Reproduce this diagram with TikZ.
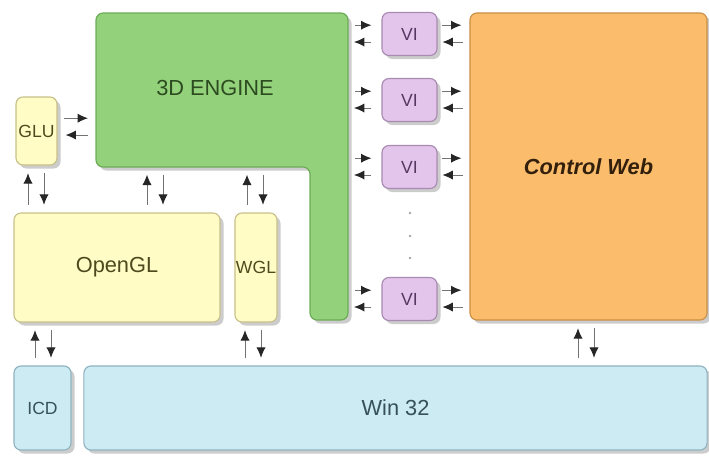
\documentclass[tikz,border=0pt]{standalone}
\usepackage{fontspec}
\setmainfont{Liberation Sans}
\usetikzlibrary{arrows.meta,shadows}

\definecolor{engfill}{HTML}{93D27B}
\definecolor{engline}{HTML}{6DAA57}
\definecolor{engtext}{HTML}{2C4B20}
\definecolor{glfill}{HTML}{FFFCC6}
\definecolor{glline}{HTML}{C8C08A}
\definecolor{gltext}{HTML}{4F4A1E}
\definecolor{vifill}{HTML}{E3C4EB}
\definecolor{viline}{HTML}{A98AB2}
\definecolor{vitext}{HTML}{553862}
\definecolor{cwfill}{HTML}{FBBD6C}
\definecolor{cwline}{HTML}{C98E47}
\definecolor{cwtext}{HTML}{33200C}
\definecolor{wfill}{HTML}{CDEBF3}
\definecolor{wline}{HTML}{8FB3C0}
\definecolor{wtext}{HTML}{37505B}

\tikzset{
every picture/.style={
line width=0.8pt
},
box/.style={draw, rounded corners=5pt, inner sep=0pt,
  drop shadow={shadow xshift=2.5pt, shadow yshift=-2.5pt, opacity=0.4}},
big/.style={font=\fontsize{15.5}{18}\selectfont},
small/.style={font=\fontsize{12.5}{15}\selectfont},
glbox/.style={box, fill=glfill, draw=glline, text=gltext},
vibox/.style={box, small, fill=vifill, draw=viline, text=vitext,
  minimum width=1.375cm, minimum height=1.075cm},
wbox/.style={box, fill=wfill, draw=wline, text=wtext, minimum height=2.1cm},
arr/.style={draw=black!55, line width=0.7pt,
  -{Latex[length=2.6mm, width=2.3mm, black!85]}},
vshort/.style={arr, shorten <=0.19cm, shorten >=0.19cm}
}

\begin{document}
\begin{tikzpicture}[x=0.025cm, y=-0.025cm]
\useasboundingbox (0,0) rectangle (709,455);

% 3D engine (L shape)
\path[box, fill=engfill, draw=engline]
  (96,13) -- (348,13) -- (348,320) -- (310,320) -- (310,167) -- (96,167) -- cycle;
\node[big, text=engtext] (engine) at (215,88) {3D ENGINE};
\coordinate (engL) at (96,140);
\coordinate (engR) at (348,140);
\coordinate (engB) at (200,167);

\node[glbox, small, minimum width=1.025cm, minimum height=1.7cm] (glu) at (36.5,131) {GLU};
\node[glbox, big, minimum width=5.15cm, minimum height=2.725cm] (opengl) at (117,267.5) {OpenGL};
\node[glbox, small, minimum width=1.05cm, minimum height=2.725cm] (wgl) at (256,267.5) {WGL};

\node[wbox, small, minimum width=1.425cm] (icd) at (42.5,408) {ICD};
\node[wbox, big, minimum width=15.575cm] (win) at (395.5,408) {Win 32};

\node[box, big, fill=cwfill, draw=cwline, text=cwtext, font=\fontsize{15.5}{18}\selectfont\bfseries\itshape,
  minimum width=5.925cm, minimum height=7.675cm] (cweb) at (588.5,166.5) {Control Web};

\foreach \y [count=\i] in {34,100,167,299}{
  \node[vibox] (vi\i) at (409.5,\y) {VI};
  \draw[arr, shorten <=0.175cm, shorten >=0.25cm] ([yshift=0.22cm]vi\i.west -| engR) -- ([yshift=0.22cm]vi\i.west);
  \draw[arr, shorten <=0.25cm, shorten >=0.15cm] ([yshift=-0.2cm]vi\i.west) -- ([yshift=-0.2cm]vi\i.west -| engR);
  \draw[arr, shorten <=0.12cm, shorten >=0.2cm] ([yshift=0.22cm]vi\i.east) -- ([yshift=0.22cm]vi\i.east -| cweb.west);
  \draw[arr, shorten <=0.15cm, shorten >=0.12cm] ([yshift=-0.2cm]vi\i.east -| cweb.west) -- ([yshift=-0.2cm]vi\i.east);
}

\foreach \y in {213,236,258}
  \fill[black!35] (410,\y) circle (0.9pt);

% GLU <-> engine
\draw[arr, shorten <=0.15cm, shorten >=0.2cm] ([yshift=0.32cm]glu.east) -- ([yshift=0.32cm]glu.east -| engL);
\draw[arr, shorten <=0.2cm, shorten >=0.2cm] ([yshift=-0.1cm]glu.east -| engL) -- ([yshift=-0.1cm]glu.east);

% vertical pairs
\foreach \x/\lo/\hi in {28/opengl/glu, 147/opengl/engB, 247/wgl/engB, 35/icd/opengl, 245/win/wgl, 578/win/cweb}{
  \draw[vshort] (\x,0 |- \lo.north) -- (\x,0 |- \hi.south);
  \draw[vshort] (\x+16,0 |- \hi.south) -- (\x+16,0 |- \lo.north);
}
\end{tikzpicture}
\end{document}
